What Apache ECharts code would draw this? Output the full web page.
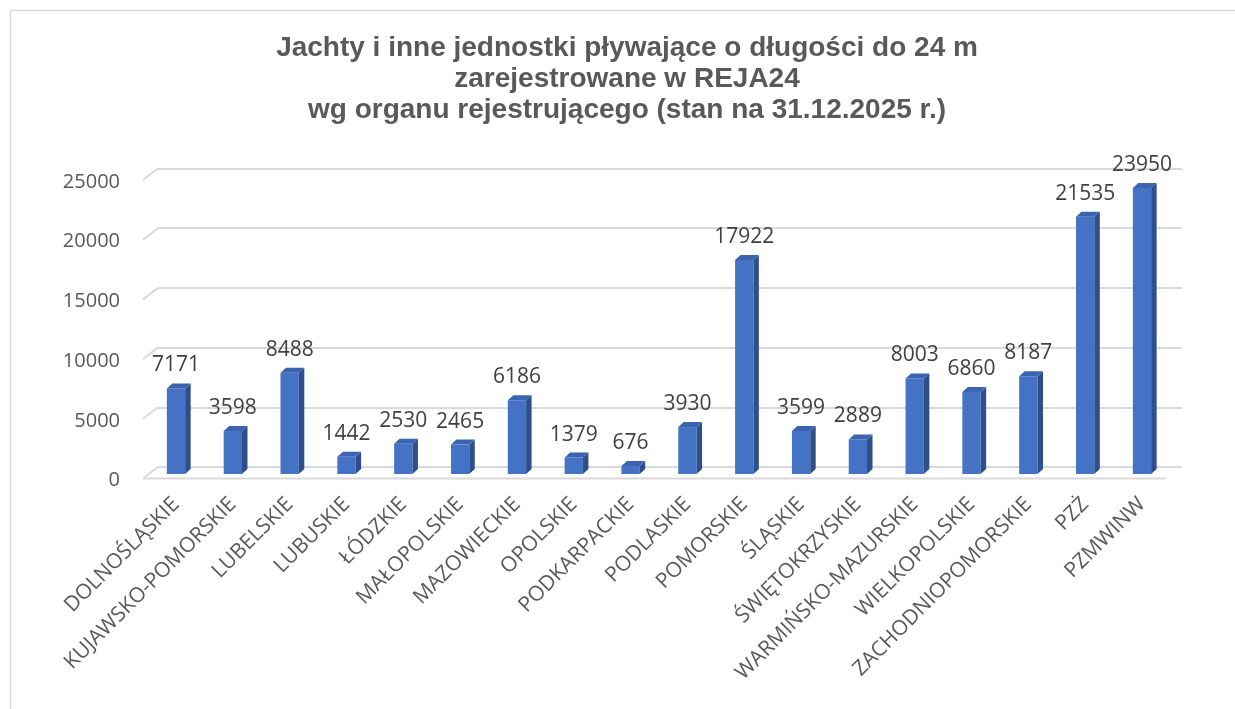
<!DOCTYPE html>
<html>
<head>
<meta charset="utf-8">
<script src="https://cdn.jsdelivr.net/npm/echarts@6/dist/echarts.min.js"></script>
<style>
  html, body { margin: 0; padding: 0; background: #fff; }
  #chart { width: 1235px; height: 709px; }
</style>
</head>
<body>
<div id="chart"></div>
<script>
// dane
var categories = ["DOLNOŚLĄSKIE", "KUJAWSKO-POMORSKIE", "LUBELSKIE", "LUBUSKIE", "ŁÓDZKIE", "MAŁOPOLSKIE",
  "MAZOWIECKIE", "OPOLSKIE", "PODKARPACKIE", "PODLASKIE", "POMORSKIE", "ŚLĄSKIE", "ŚWIĘTOKRZYSKIE",
  "WARMIŃSKO-MAZURSKIE", "WIELKOPOLSKIE", "ZACHODNIOPOMORSKIE", "PZŻ", "PZMWINW"];
var values = [7171, 3598, 8488, 1442, 2530, 2465, 6186, 1379, 676, 3930, 17922, 3599, 2889, 8003, 6860, 8187, 21535, 23950];
var yTicks = [0, 5000, 10000, 15000, 20000, 25000];

(function () {
  var myChart = echarts.init(document.getElementById("chart"));
  var gridColor = "#d9d9d9";

  var option = {
    backgroundColor: "#fff",
    animation: false,
    title: {
      text: "Jachty i inne jednostki pływające o długości do 24 m\nzarejestrowane w REJA24\nwg organu rejestrującego (stan na 31.12.2025 r.)",
      left: 622,
      textAlign: "center",
      top: 28,
      textStyle: {
        fontFamily: "Liberation Sans",
        fontSize: 28,
        fontWeight: "bold",
        color: "#595959",
        lineHeight: 31
      }
    },
    // ramka wykresu
    graphic: [{
      type: "rect",
      shape: { x: 10.5, y: 10.5, width: 1240, height: 720 },
      style: { fill: "none", stroke: gridColor, lineWidth: 1.5 },
      silent: true
    }],
    grid: [
      // przód - słupki
      { left: 147.6, right: 64.6, top: 175.5, bottom: 235 },
      // tylna ściana - linie siatki
      { left: 158, right: 53, top: 168.5, bottom: 242 }
    ],
    xAxis: [
      {
        type: "category",
        gridIndex: 0,
        data: categories,
        axisLine: { show: false },
        axisTick: { show: false },
        axisLabel: {
          interval: 0,
          rotate: 45,
          margin: 27,
          fontFamily: "Open Sans",
          fontSize: 21,
          color: "#595959"
        }
      },
      { type: "value", gridIndex: 1, min: 0, max: 1, show: false }
    ],
    yAxis: [
      { type: "value", gridIndex: 0, min: 0, max: 25000, interval: 5000, show: false },
      {
        type: "value",
        gridIndex: 1,
        min: 0,
        max: 25000,
        interval: 5000,
        axisLine: { show: false },
        axisTick: { show: false },
        axisLabel: {
          margin: 38,
          verticalAlign: "top",
          lineHeight: 27,
          formatter: function (v) { return String(v); },
          fontFamily: "Open Sans",
          fontSize: 20,
          color: "#595959"
        },
        splitLine: { lineStyle: { color: gridColor, width: 2 } }
      }
    ],
    series: [
      {
        // lewa ściana i podłoga (skosy 3D)
        type: "custom",
        xAxisIndex: 1,
        yAxisIndex: 1,
        silent: true,
        data: yTicks.map(function (v) { return [0, v]; }),
        renderItem: function (params, api) {
          var p = api.coord([0, api.value(1)]);
          var children = [{
            type: "line",
            shape: { x1: p[0], y1: p[1], x2: p[0] - 15, y2: p[1] + 11.5 },
            style: { stroke: gridColor, lineWidth: 2 }
          }];
          if (api.value(1) === 0) {
            var pr = api.coord([1, 0]);
            children.push({
              type: "line",
              shape: { x1: p[0] - 15, y1: p[1] + 11.5, x2: pr[0] - 16, y2: p[1] + 11.5 },
              style: { stroke: gridColor, lineWidth: 2 }
            });
          }
          return { type: "group", children: children };
        }
      },
      {
        // słupki 3D
        type: "custom",
        xAxisIndex: 0,
        yAxisIndex: 0,
        data: values.map(function (v, i) { return [i, v]; }),
        encode: { x: 0, y: 1 },
        renderItem: function (params, api) {
          var i = api.value(0), v = api.value(1);
          var top = api.coord([i, v]);
          var base = api.coord([i, 0]);
          var bw = api.size([1, 0])[0] * 0.322;
          var dx = 5.5, dy = -5;
          var l = top[0] - bw / 2, r = top[0] + bw / 2;
          return {
            type: "group",
            children: [
              {
                type: "rect",
                shape: { x: l, y: top[1], width: bw, height: base[1] - top[1] },
                style: { fill: "#4472c4" }
              },
              {
                type: "polygon",
                shape: { points: [[r, top[1]], [r + dx, top[1] + dy], [r + dx, base[1] + dy], [r, base[1]]] },
                style: { fill: "#2f4f8c" }
              },
              {
                type: "polygon",
                shape: { points: [[l, top[1]], [l + dx, top[1] + dy], [r + dx, top[1] + dy], [r, top[1]]] },
                style: { fill: "#3a63b0" }
              },
              {
                type: "text",
                style: {
                  x: top[0],
                  y: top[1] - 23,
                  text: String(v),
                  align: "center",
                  verticalAlign: "middle",
                  fontFamily: "Open Sans",
                  fontSize: 21,
                  fill: "#404040"
                }
              }
            ]
          };
        }
      }
    ]
  };
  myChart.setOption(option);
  window.addEventListener("resize", function () {
    myChart.resize();
  });
})();
</script>
</body>
</html>
